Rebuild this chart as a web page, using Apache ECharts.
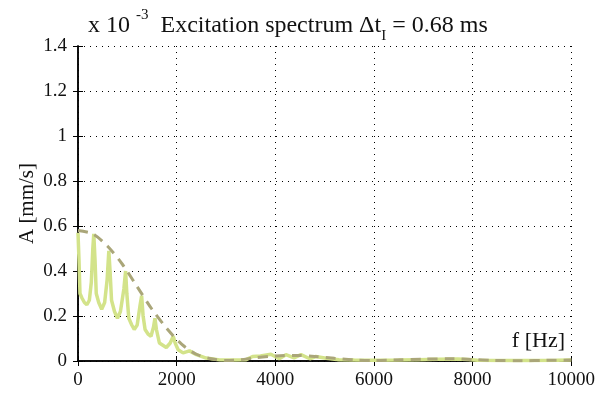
<!DOCTYPE html>
<html>
<head>
<meta charset="utf-8">
<script src="https://cdn.jsdelivr.net/npm/echarts@6/dist/echarts.min.js"></script>
<style>html,body{margin:0;padding:0;background:#fff;}#c{width:598px;height:394px;}</style>
</head>
<body>
<div id="c"></div>
<script>
// Frequency [Hz] and amplitude [x10^-3 mm/s] of measured spectrum
const spectrumF = [0,20,40,80,130,180,230,270,300,320,345,370,420,480,540,590,625,650,680,740,800,860,930,965,990,1030,1090,1140,1200,1260,1290,1320,1360,1420,1480,1530,1560,1590,1650,1720,1790,1870,1930,1970,2030,2130,2260,2400,2600,2870,3100,3400,3540,3700,3910,4080,4215,4380,4520,4700,4820,5030,5290,5600,6000,6500,6900,7300,7700,7900,8100,8600,9200,9700,10000];
const spectrumA = [0.57,0.45,0.30,0.28,0.26,0.25,0.27,0.35,0.50,0.565,0.45,0.30,0.26,0.23,0.26,0.36,0.49,0.40,0.27,0.22,0.19,0.22,0.32,0.40,0.30,0.19,0.16,0.14,0.16,0.25,0.29,0.20,0.14,0.12,0.11,0.15,0.19,0.14,0.08,0.07,0.06,0.08,0.11,0.08,0.05,0.036,0.045,0.028,0.013,0.005,0.004,0.005,0.02,0.022,0.03,0.01,0.028,0.014,0.028,0.01,0.02,0.012,0.006,0.004,0.003,0.004,0.006,0.008,0.009,0.007,0.003,0.002,0.002,0.003,0.004];
// Envelope (dashed)
const envF = [0,300,600,900,1200,1500,1800,2100,2400,2700,3000,3300,3600,4000,4400,4800,5200,5600,6000,6400,7000,7600,8000,8400,9000,9500,10000];
const envA = [0.58,0.565,0.51,0.43,0.33,0.23,0.145,0.075,0.03,0.01,0.002,0.006,0.015,0.022,0.025,0.02,0.012,0.005,0.002,0.004,0.008,0.01,0.007,0.003,0.001,0.003,0.004];
const yTicks = [0,0.2,0.4,0.6,0.8,1,1.2,1.4];
const xTicks = [0,2000,4000,6000,8000,10000];

const spec = spectrumF.map((f,i)=>[f,spectrumA[i]]);
const env = envF.map((f,i)=>[f,envA[i]]);
const serif = 'Liberation Serif';
const chart = echarts.init(document.getElementById('c'));
chart.setOption({
  animation:false,
  backgroundColor:'#fff',
  title:{
    left:83, top:3,
    text:'{a|x 10 }{sup|-3}{a|  Excitation spectrum Δt}{sub|I}{a| = 0.68 ms}',
    textStyle:{
      fontFamily:serif, color:'#111', fontWeight:'normal',
      rich:{
        a:{fontFamily:serif,fontSize:24,fontWeight:'normal',color:'#111',lineHeight:36,verticalAlign:'middle'},
        sup:{fontFamily:serif,fontSize:15,fontWeight:'normal',color:'#111',lineHeight:18,verticalAlign:'top'},
        sub:{fontFamily:serif,fontSize:15,fontWeight:'normal',color:'#111',lineHeight:14,verticalAlign:'bottom'}
      }
    }
  },
  grid:{left:78,right:25,top:46,bottom:33,containLabel:false},
  xAxis:[{
    type:'value',min:xTicks[0],max:xTicks[xTicks.length-1],interval:2000,
    axisLine:{lineStyle:{color:'#000',width:1.5}},
    axisTick:{inside:true,length:5,lineStyle:{color:'#000'}},
    axisLabel:{fontFamily:serif,fontSize:19,color:'#111',margin:10,formatter:v=>String(v)},
    splitLine:{show:true,lineStyle:{color:'#000',type:[1,5],width:1}}
  },{
    type:'value',position:'top',min:0,max:10000,interval:2000,
    axisLine:{show:true,lineStyle:{color:'#000',width:1.5}},
    axisTick:{inside:true,length:5,lineStyle:{color:'#000'}},
    axisLabel:{show:false},splitLine:{show:false}
  }],
  yAxis:[{
    type:'value',min:yTicks[0],max:yTicks[yTicks.length-1],interval:0.2,
    name:'A [mm/s]',nameLocation:'middle',nameGap:40,nameMoveOverlap:false,
    nameTextStyle:{fontFamily:serif,fontSize:21,color:'#111'},
    axisLine:{show:true,lineStyle:{color:'#000',width:1.5}},
    axisTick:{show:true,inside:true,length:5,lineStyle:{color:'#000'}},
    axisLabel:{fontFamily:serif,fontSize:19,color:'#111',margin:11,formatter:v=>String(+v.toFixed(1))},
    splitLine:{show:true,lineStyle:{color:'#000',type:[1,5],width:1}}
  },{
    type:'value',position:'right',min:0,max:1.4,interval:0.2,
    axisLine:{show:true,lineStyle:{color:'#000',width:1.5}},
    axisTick:{show:true,inside:true,length:5,lineStyle:{color:'#000'}},
    axisLabel:{show:false},splitLine:{show:false}
  }],
  graphic:[{
    type:'text',right:33,top:330,
    style:{text:'f [Hz]',fontFamily:serif,fontSize:22,fill:'#111'}
  }],
  series:[{
    type:'line',data:spec,showSymbol:false,symbol:'none',z:3,
    lineStyle:{color:'#d3e38a',width:3.5}
  },{
    type:'line',data:env,showSymbol:false,symbol:'none',smooth:0.3,z:4,
    lineStyle:{color:'#aaa679',width:3,type:[10,7]}
  }]
});
</script>
</body>
</html>
